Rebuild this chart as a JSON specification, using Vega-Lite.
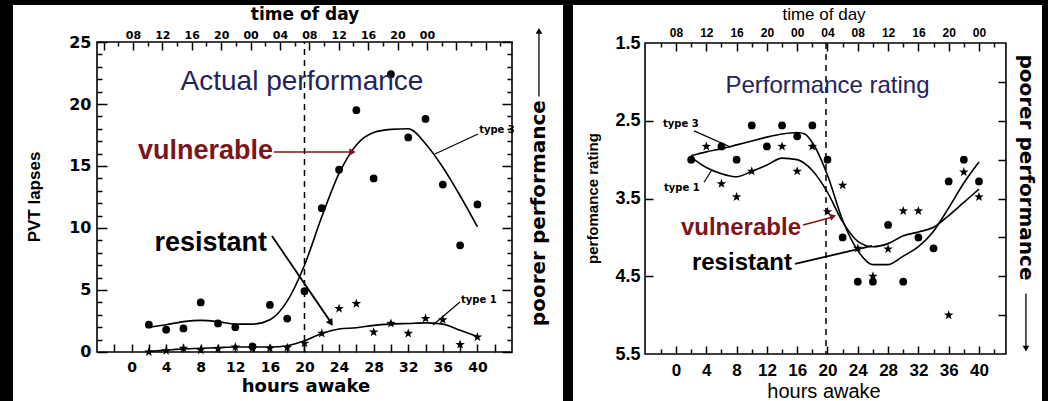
{
  "$schema": "https://vega.github.io/schema/vega-lite/v6.json",
  "background": "black",
  "padding": {"left": 13, "top": 5, "right": 6, "bottom": 0},
  "spacing": 10,
  "config": {
    "view": {"fill": "white", "stroke": null},
    "axis": {"grid": false, "domain": false, "labelOverlap": false, "labelFlush": false, "minExtent": 0, "tickColor": "black", "labelColor": "black", "tickWidth": 1.5}
  },
  "datasets": {
    "left_pts": [
      {"hours": 2, "group": "type 3", "value": 2.2}, {"hours": 4, "group": "type 3", "value": 1.8}, {"hours": 6, "group": "type 3", "value": 1.9}, {"hours": 8, "group": "type 3", "value": 4.0}, {"hours": 10, "group": "type 3", "value": 2.3}, {"hours": 12, "group": "type 3", "value": 2.0}, {"hours": 14, "group": "type 3", "value": 0.45}, {"hours": 16, "group": "type 3", "value": 3.8}, {"hours": 18, "group": "type 3", "value": 2.7}, {"hours": 20, "group": "type 3", "value": 4.9}, {"hours": 22, "group": "type 3", "value": 11.6}, {"hours": 24, "group": "type 3", "value": 14.7}, {"hours": 26, "group": "type 3", "value": 19.5}, {"hours": 28, "group": "type 3", "value": 14.0}, {"hours": 30, "group": "type 3", "value": 22.4}, {"hours": 32, "group": "type 3", "value": 17.3}, {"hours": 34, "group": "type 3", "value": 18.8}, {"hours": 36, "group": "type 3", "value": 13.5}, {"hours": 38, "group": "type 3", "value": 8.6}, {"hours": 40, "group": "type 3", "value": 11.9},
      {"hours": 2, "group": "type 1", "value": 0.0}, {"hours": 4, "group": "type 1", "value": 0.1}, {"hours": 6, "group": "type 1", "value": 0.3}, {"hours": 8, "group": "type 1", "value": 0.15}, {"hours": 10, "group": "type 1", "value": 0.25}, {"hours": 12, "group": "type 1", "value": 0.4}, {"hours": 14, "group": "type 1", "value": 0.3}, {"hours": 16, "group": "type 1", "value": 0.3}, {"hours": 18, "group": "type 1", "value": 0.35}, {"hours": 20, "group": "type 1", "value": 0.7}, {"hours": 22, "group": "type 1", "value": 1.5}, {"hours": 24, "group": "type 1", "value": 3.5}, {"hours": 26, "group": "type 1", "value": 3.9}, {"hours": 28, "group": "type 1", "value": 1.6}, {"hours": 30, "group": "type 1", "value": 2.3}, {"hours": 32, "group": "type 1", "value": 1.5}, {"hours": 34, "group": "type 1", "value": 2.7}, {"hours": 36, "group": "type 1", "value": 2.6}, {"hours": 38, "group": "type 1", "value": 0.6}, {"hours": 40, "group": "type 1", "value": 1.2}
    ],
    "left_fit": [
      {"hours": 2, "group": "type 3", "value": 2.0}, {"hours": 4, "group": "type 3", "value": 2.2}, {"hours": 6, "group": "type 3", "value": 2.45}, {"hours": 8, "group": "type 3", "value": 2.55}, {"hours": 10, "group": "type 3", "value": 2.45}, {"hours": 12, "group": "type 3", "value": 2.25}, {"hours": 14, "group": "type 3", "value": 2.25}, {"hours": 16, "group": "type 3", "value": 2.6}, {"hours": 18, "group": "type 3", "value": 4.1}, {"hours": 20, "group": "type 3", "value": 7.0}, {"hours": 22, "group": "type 3", "value": 10.9}, {"hours": 24, "group": "type 3", "value": 14.4}, {"hours": 26, "group": "type 3", "value": 16.7}, {"hours": 28, "group": "type 3", "value": 17.7}, {"hours": 30, "group": "type 3", "value": 17.95}, {"hours": 32, "group": "type 3", "value": 18.0}, {"hours": 34, "group": "type 3", "value": 16.8}, {"hours": 36, "group": "type 3", "value": 14.9}, {"hours": 38, "group": "type 3", "value": 12.6}, {"hours": 40, "group": "type 3", "value": 10.1},
      {"hours": 2, "group": "type 1", "value": 0.05}, {"hours": 4, "group": "type 1", "value": 0.15}, {"hours": 6, "group": "type 1", "value": 0.25}, {"hours": 8, "group": "type 1", "value": 0.3}, {"hours": 10, "group": "type 1", "value": 0.35}, {"hours": 12, "group": "type 1", "value": 0.4}, {"hours": 14, "group": "type 1", "value": 0.4}, {"hours": 16, "group": "type 1", "value": 0.4}, {"hours": 18, "group": "type 1", "value": 0.5}, {"hours": 20, "group": "type 1", "value": 0.9}, {"hours": 22, "group": "type 1", "value": 1.5}, {"hours": 24, "group": "type 1", "value": 1.85}, {"hours": 26, "group": "type 1", "value": 1.95}, {"hours": 28, "group": "type 1", "value": 2.15}, {"hours": 30, "group": "type 1", "value": 2.25}, {"hours": 32, "group": "type 1", "value": 2.3}, {"hours": 34, "group": "type 1", "value": 2.35}, {"hours": 36, "group": "type 1", "value": 2.25}, {"hours": 38, "group": "type 1", "value": 1.75}, {"hours": 40, "group": "type 1", "value": 1.25}
    ],
    "right_pts": [
      {"hours": 2, "group": "type 3", "value": 3.0}, {"hours": 6, "group": "type 3", "value": 2.83}, {"hours": 8, "group": "type 3", "value": 3.0}, {"hours": 10, "group": "type 3", "value": 2.56}, {"hours": 12, "group": "type 3", "value": 2.83}, {"hours": 14, "group": "type 3", "value": 2.56}, {"hours": 16, "group": "type 3", "value": 2.7}, {"hours": 18, "group": "type 3", "value": 2.56}, {"hours": 20, "group": "type 3", "value": 3.0}, {"hours": 22, "group": "type 3", "value": 4.0}, {"hours": 24, "group": "type 3", "value": 4.57}, {"hours": 26, "group": "type 3", "value": 4.57}, {"hours": 28, "group": "type 3", "value": 3.84}, {"hours": 30, "group": "type 3", "value": 4.57}, {"hours": 32, "group": "type 3", "value": 4.0}, {"hours": 34, "group": "type 3", "value": 4.14}, {"hours": 36, "group": "type 3", "value": 3.28}, {"hours": 38, "group": "type 3", "value": 3.0}, {"hours": 40, "group": "type 3", "value": 3.28},
      {"hours": 4, "group": "type 1", "value": 2.83}, {"hours": 6, "group": "type 1", "value": 3.31}, {"hours": 8, "group": "type 1", "value": 3.48}, {"hours": 10, "group": "type 1", "value": 3.15}, {"hours": 14, "group": "type 1", "value": 2.83}, {"hours": 16, "group": "type 1", "value": 3.15}, {"hours": 18, "group": "type 1", "value": 2.83}, {"hours": 20, "group": "type 1", "value": 3.67}, {"hours": 22, "group": "type 1", "value": 3.33}, {"hours": 24, "group": "type 1", "value": 4.14}, {"hours": 26, "group": "type 1", "value": 4.5}, {"hours": 28, "group": "type 1", "value": 4.15}, {"hours": 30, "group": "type 1", "value": 3.66}, {"hours": 32, "group": "type 1", "value": 3.66}, {"hours": 36, "group": "type 1", "value": 5.0}, {"hours": 38, "group": "type 1", "value": 3.16}, {"hours": 40, "group": "type 1", "value": 3.48}
    ],
    "right_fit": [
      {"hours": 2, "group": "type 3", "value": 2.95}, {"hours": 4, "group": "type 3", "value": 2.9}, {"hours": 6, "group": "type 3", "value": 2.86}, {"hours": 8, "group": "type 3", "value": 2.81}, {"hours": 10, "group": "type 3", "value": 2.76}, {"hours": 12, "group": "type 3", "value": 2.71}, {"hours": 14, "group": "type 3", "value": 2.67}, {"hours": 16, "group": "type 3", "value": 2.65}, {"hours": 17, "group": "type 3", "value": 2.67}, {"hours": 18, "group": "type 3", "value": 2.78}, {"hours": 20, "group": "type 3", "value": 3.2}, {"hours": 22, "group": "type 3", "value": 3.78}, {"hours": 24, "group": "type 3", "value": 4.17}, {"hours": 26, "group": "type 3", "value": 4.35}, {"hours": 28, "group": "type 3", "value": 4.35}, {"hours": 30, "group": "type 3", "value": 4.24}, {"hours": 32, "group": "type 3", "value": 4.12}, {"hours": 34, "group": "type 3", "value": 3.92}, {"hours": 36, "group": "type 3", "value": 3.62}, {"hours": 38, "group": "type 3", "value": 3.3}, {"hours": 40, "group": "type 3", "value": 3.03},
      {"hours": 2, "group": "type 1", "value": 2.97}, {"hours": 4, "group": "type 1", "value": 3.1}, {"hours": 6, "group": "type 1", "value": 3.18}, {"hours": 8, "group": "type 1", "value": 3.22}, {"hours": 10, "group": "type 1", "value": 3.15}, {"hours": 12, "group": "type 1", "value": 3.07}, {"hours": 14, "group": "type 1", "value": 2.98}, {"hours": 16, "group": "type 1", "value": 3.0}, {"hours": 18, "group": "type 1", "value": 3.14}, {"hours": 20, "group": "type 1", "value": 3.42}, {"hours": 22, "group": "type 1", "value": 3.8}, {"hours": 24, "group": "type 1", "value": 4.05}, {"hours": 26, "group": "type 1", "value": 4.12}, {"hours": 28, "group": "type 1", "value": 4.08}, {"hours": 30, "group": "type 1", "value": 3.98}, {"hours": 32, "group": "type 1", "value": 3.93}, {"hours": 34, "group": "type 1", "value": 3.87}, {"hours": 36, "group": "type 1", "value": 3.72}, {"hours": 38, "group": "type 1", "value": 3.55}, {"hours": 40, "group": "type 1", "value": 3.38}
    ]
  },
  "hconcat": [
    {
      "width": 550,
      "height": 396,
      "resolve": {"axis": {"x": "independent", "y": "independent"}},
      "layer": [
        {"data": {"values": [{}]}, "mark": {"type": "point", "opacity": 0},
         "encoding": {
           "x": {"datum": 20, "type": "quantitative", "scale": {"domain": [-13.715, 49.9], "nice": false, "zero": false},
                 "axis": {"orient": "bottom", "offset": -49, "values": [0, 4, 8, 12, 16, 20, 24, 28, 32, 36, 40], "ticks": false, "tickSize": 0, "labelPadding": 8, "labelFont": "DejaVu Sans", "labelFontWeight": "bold", "labelFontSize": 14, "title": null}},
           "y": {"datum": 10, "type": "quantitative", "scale": {"domain": [-3.952, 27.984], "nice": false, "zero": false},
                 "axis": {"orient": "left", "offset": -84, "values": [0, 5, 10, 15, 20, 25], "ticks": false, "tickSize": 0, "labelPadding": 6, "labelFont": "DejaVu Sans", "labelFontWeight": "bold", "labelFontSize": 16, "title": null}}
         }},
        {"data": {"values": [{}]}, "mark": {"type": "point", "opacity": 0},
         "encoding": {
           "x": {"datum": 20, "type": "quantitative", "scale": {"domain": [-13.715, 49.9], "nice": false, "zero": false},
                 "axis": {"orient": "top", "offset": -347, "values": [-2, 0, 2, 4, 6, 8, 10, 12, 14, 16, 18, 20, 22, 24, 26, 28, 30, 32, 34, 36, 38, 40, 42], "labels": false, "tickSize": 8, "title": null}},
           "y": {"datum": 10, "type": "quantitative", "scale": {"domain": [-3.952, 27.984], "nice": false, "zero": false},
                 "axis": {"orient": "right", "offset": -466, "values": [0, 5, 10, 15, 20, 25], "labels": false, "tickSize": 10, "title": null}}
         }},
        {"data": {"values": [{}]}, "mark": {"type": "point", "opacity": 0},
         "encoding": {
           "x": {"datum": 20, "type": "quantitative", "scale": {"domain": [-13.715, 49.9], "nice": false, "zero": false},
                 "axis": {"orient": "top", "offset": -37, "values": [0.16, 3.56, 6.96, 10.36, 13.76, 17.16, 20.56, 23.96, 27.36, 30.76, 34.16], "labelExpr": "format((8 + 4*round((datum.value - 0.16)/3.4)) % 24, '02d')", "ticks": false, "tickSize": 0, "labelPadding": 2, "labelFont": "DejaVu Sans", "labelFontWeight": "bold", "labelFontSize": 11, "title": null}},
           "y": {"datum": 10, "type": "quantitative", "scale": {"domain": [-3.952, 27.984], "nice": false, "zero": false},
                 "axis": {"orient": "right", "offset": -466, "values": [1, 2, 3, 4, 6, 7, 8, 9, 11, 12, 13, 14, 16, 17, 18, 19, 21, 22, 23, 24], "labels": false, "tickSize": 5, "title": null}}
         }},
        {"data": {"values": [{}]}, "mark": {"type": "point", "opacity": 0},
         "encoding": {
           "x": {"datum": 20, "type": "quantitative", "scale": {"domain": [-13.715, 49.9], "nice": false, "zero": false},
                 "axis": {"orient": "bottom", "offset": -359, "values": [-3.24, 0.16, 3.56, 6.96, 10.36, 13.76, 17.16, 20.56, 23.96, 27.36, 30.76, 34.16, 37.56, 40.96], "labels": false, "tickSize": 8, "title": null}},
           "y": {"datum": 10, "type": "quantitative", "scale": {"domain": [-3.952, 27.984], "nice": false, "zero": false},
                 "axis": {"orient": "left", "offset": -499, "values": [0, 5, 10, 15, 20, 25], "labels": false, "tickSize": 10, "title": null}}
         }},
        {"data": {"values": [{}]}, "mark": {"type": "point", "opacity": 0},
         "encoding": {
           "x": {"datum": 20, "type": "quantitative", "scale": {"domain": [-13.715, 49.9], "nice": false, "zero": false},
                 "axis": {"orient": "bottom", "offset": -359, "values": [-1.54, 1.86, 5.26, 8.66, 12.06, 15.46, 18.86, 22.26, 25.66, 29.06, 32.46, 35.86, 39.26, 42.66], "labels": false, "tickSize": 4, "title": null}},
           "y": {"datum": 10, "type": "quantitative", "scale": {"domain": [-3.952, 27.984], "nice": false, "zero": false},
                 "axis": {"orient": "left", "offset": -499, "values": [1, 2, 3, 4, 6, 7, 8, 9, 11, 12, 13, 14, 16, 17, 18, 19, 21, 22, 23, 24], "labels": false, "tickSize": 5, "title": null}}
         }},
        {"data": {"values": [{}]}, "mark": {"type": "rect", "fillOpacity": 0, "stroke": "black", "strokeWidth": 1.6},
         "encoding": {
           "x": {"datum": -4, "type": "quantitative", "scale": {"domain": [-13.715, 49.9], "nice": false, "zero": false}, "axis": null},
           "x2": {"datum": 44},
           "y": {"datum": 0, "type": "quantitative", "scale": {"domain": [-3.952, 27.984], "nice": false, "zero": false}, "axis": null},
           "y2": {"datum": 25}
         }},
        {"data": {"values": [{}]}, "mark": {"type": "rule", "color": "black", "strokeWidth": 1.5, "strokeDash": [6, 5]},
         "encoding": {
           "x": {"datum": 20, "type": "quantitative", "scale": {"domain": [-13.715, 49.9], "nice": false, "zero": false}, "axis": null},
           "y": {"datum": 0, "type": "quantitative", "scale": {"domain": [-3.952, 27.984], "nice": false, "zero": false}, "axis": null},
           "y2": {"datum": 25}
         }},
        {"data": {"name": "left_fit"}, "mark": {"type": "line", "color": "black", "strokeWidth": 1.6, "interpolate": "monotone"},
         "encoding": {
           "x": {"field": "hours", "type": "quantitative", "scale": {"domain": [-13.715, 49.9], "nice": false, "zero": false}, "axis": null},
           "y": {"field": "value", "type": "quantitative", "scale": {"domain": [-3.952, 27.984], "nice": false, "zero": false}, "axis": null},
           "detail": {"field": "group"}
         }},
        {"data": {"name": "left_pts"}, "mark": {"type": "point", "filled": true, "color": "black", "opacity": 1},
         "encoding": {
           "x": {"field": "hours", "type": "quantitative", "scale": {"domain": [-13.715, 49.9], "nice": false, "zero": false}, "axis": null},
           "y": {"field": "value", "type": "quantitative", "scale": {"domain": [-3.952, 27.984], "nice": false, "zero": false}, "axis": null},
           "shape": {"field": "group", "type": "nominal", "scale": {"domain": ["type 3", "type 1"], "range": ["circle", "M0,-1L0.235,-0.324L0.951,-0.309L0.38,0.124L0.588,0.809L0,0.4L-0.588,0.809L-0.38,0.124L-0.951,-0.309L-0.235,-0.324Z"]}, "legend": null},
           "size": {"field": "group", "type": "nominal", "scale": {"domain": ["type 3", "type 1"], "range": [60, 100]}, "legend": null}
         }},
        {"data": {"values": [{}]}, "mark": {"type": "text", "text": "time of day", "font": "DejaVu Sans", "fontWeight": "bold", "fontSize": 17, "color": "black", "align": "center", "baseline": "middle"},
         "encoding": {
           "x": {"datum": 20.06, "type": "quantitative", "scale": {"domain": [-13.715, 49.9], "nice": false, "zero": false}, "axis": null},
           "y": {"datum": 27.18, "type": "quantitative", "scale": {"domain": [-3.952, 27.984], "nice": false, "zero": false}, "axis": null}
         }},
        {"data": {"values": [{}]}, "mark": {"type": "text", "text": "hours awake", "font": "DejaVu Sans", "fontWeight": "bold", "fontSize": 18, "color": "black", "align": "center", "baseline": "middle"},
         "encoding": {
           "x": {"datum": 20.17, "type": "quantitative", "scale": {"domain": [-13.715, 49.9], "nice": false, "zero": false}, "axis": null},
           "y": {"datum": -2.85, "type": "quantitative", "scale": {"domain": [-3.952, 27.984], "nice": false, "zero": false}, "axis": null}
         }},
        {"data": {"values": [{}]}, "mark": {"type": "text", "text": "PVT lapses", "font": "Liberation Sans", "fontWeight": "bold", "fontSize": 17, "color": "black", "align": "center", "baseline": "middle", "angle": 270},
         "encoding": {
           "x": {"datum": -11.17, "type": "quantitative", "scale": {"domain": [-13.715, 49.9], "nice": false, "zero": false}, "axis": null},
           "y": {"datum": 12.5, "type": "quantitative", "scale": {"domain": [-3.952, 27.984], "nice": false, "zero": false}, "axis": null}
         }},
        {"data": {"values": [{}]}, "mark": {"type": "text", "text": "Actual performance", "font": "Liberation Sans", "fontSize": 28, "color": "#23235a", "align": "center", "baseline": "middle"},
         "encoding": {
           "x": {"datum": 19.71, "type": "quantitative", "scale": {"domain": [-13.715, 49.9], "nice": false, "zero": false}, "axis": null},
           "y": {"datum": 21.77, "type": "quantitative", "scale": {"domain": [-3.952, 27.984], "nice": false, "zero": false}, "axis": null}
         }},
        {"data": {"values": [{}]}, "mark": {"type": "text", "text": "vulnerable", "font": "Liberation Sans", "fontWeight": "bold", "fontSize": 27, "color": "#7d1518", "align": "right", "baseline": "middle"},
         "encoding": {
           "x": {"datum": 16.36, "type": "quantitative", "scale": {"domain": [-13.715, 49.9], "nice": false, "zero": false}, "axis": null},
           "y": {"datum": 16.21, "type": "quantitative", "scale": {"domain": [-3.952, 27.984], "nice": false, "zero": false}, "axis": null}
         }},
        {"data": {"values": [{}]}, "mark": {"type": "text", "text": "resistant", "font": "Liberation Sans", "fontWeight": "bold", "fontSize": 27, "color": "black", "align": "right", "baseline": "middle"},
         "encoding": {
           "x": {"datum": 15.66, "type": "quantitative", "scale": {"domain": [-13.715, 49.9], "nice": false, "zero": false}, "axis": null},
           "y": {"datum": 8.79, "type": "quantitative", "scale": {"domain": [-3.952, 27.984], "nice": false, "zero": false}, "axis": null}
         }},
        {"data": {"values": [{}]}, "mark": {"type": "text", "text": "type 3", "font": "DejaVu Sans", "fontWeight": "bold", "fontSize": 10, "color": "black", "align": "left", "baseline": "middle"},
         "encoding": {
           "x": {"datum": 40.2, "type": "quantitative", "scale": {"domain": [-13.715, 49.9], "nice": false, "zero": false}, "axis": null},
           "y": {"datum": 17.9, "type": "quantitative", "scale": {"domain": [-3.952, 27.984], "nice": false, "zero": false}, "axis": null}
         }},
        {"data": {"values": [{}]}, "mark": {"type": "text", "text": "type 1", "font": "DejaVu Sans", "fontWeight": "bold", "fontSize": 10, "color": "black", "align": "left", "baseline": "middle"},
         "encoding": {
           "x": {"datum": 38.1, "type": "quantitative", "scale": {"domain": [-13.715, 49.9], "nice": false, "zero": false}, "axis": null},
           "y": {"datum": 4.19, "type": "quantitative", "scale": {"domain": [-3.952, 27.984], "nice": false, "zero": false}, "axis": null}
         }},
        {"data": {"values": [{}]}, "mark": {"type": "text", "text": "poorer performance", "font": "DejaVu Sans", "fontWeight": "bold", "fontSize": 20, "color": "black", "align": "center", "baseline": "middle", "angle": 270},
         "encoding": {
           "x": {"datum": 47.12, "type": "quantitative", "scale": {"domain": [-13.715, 49.9], "nice": false, "zero": false}, "axis": null},
           "y": {"datum": 11.2, "type": "quantitative", "scale": {"domain": [-3.952, 27.984], "nice": false, "zero": false}, "axis": null}
         }},
        {"data": {"values": [{}]}, "mark": {"type": "rule", "color": "#7d1518", "strokeWidth": 1.6},
         "encoding": {
           "x": {"datum": 16.47, "type": "quantitative", "scale": {"domain": [-13.715, 49.9], "nice": false, "zero": false}, "axis": null},
           "x2": {"datum": 25.3},
           "y": {"datum": 16.13, "type": "quantitative", "scale": {"domain": [-3.952, 27.984], "nice": false, "zero": false}, "axis": null},
           "y2": {"datum": 16.13}
         }},
        {"data": {"values": [{}]}, "mark": {"type": "rule", "color": "black", "strokeWidth": 1.8},
         "encoding": {
           "x": {"datum": 16.24, "type": "quantitative", "scale": {"domain": [-13.715, 49.9], "nice": false, "zero": false}, "axis": null},
           "x2": {"datum": 22.9},
           "y": {"datum": 9.35, "type": "quantitative", "scale": {"domain": [-3.952, 27.984], "nice": false, "zero": false}, "axis": null},
           "y2": {"datum": 2.55}
         }},
        {"data": {"values": [{}]}, "mark": {"type": "rule", "color": "black", "strokeWidth": 1.2},
         "encoding": {
           "x": {"datum": 40.07, "type": "quantitative", "scale": {"domain": [-13.715, 49.9], "nice": false, "zero": false}, "axis": null},
           "x2": {"datum": 35.09},
           "y": {"datum": 17.58, "type": "quantitative", "scale": {"domain": [-3.952, 27.984], "nice": false, "zero": false}, "axis": null},
           "y2": {"datum": 15.97}
         }},
        {"data": {"values": [{}]}, "mark": {"type": "rule", "color": "black", "strokeWidth": 1.2},
         "encoding": {
           "x": {"datum": 37.98, "type": "quantitative", "scale": {"domain": [-13.715, 49.9], "nice": false, "zero": false}, "axis": null},
           "x2": {"datum": 34.86},
           "y": {"datum": 4.03, "type": "quantitative", "scale": {"domain": [-3.952, 27.984], "nice": false, "zero": false}, "axis": null},
           "y2": {"datum": 2.18}
         }},
        {"data": {"values": [{}]}, "mark": {"type": "rule", "color": "black", "strokeWidth": 1.3},
         "encoding": {
           "x": {"datum": 47.12, "type": "quantitative", "scale": {"domain": [-13.715, 49.9], "nice": false, "zero": false}, "axis": null},
           "y": {"datum": 20.6, "type": "quantitative", "scale": {"domain": [-3.952, 27.984], "nice": false, "zero": false}, "axis": null},
           "y2": {"datum": 25.8}
         }},
        {"data": {"values": [{}]}, "mark": {"type": "point", "shape": "triangle-right", "filled": true, "color": "#7d1518", "opacity": 1, "size": 55, "angle": 0},
         "encoding": {
           "x": {"datum": 25.55, "type": "quantitative", "scale": {"domain": [-13.715, 49.9], "nice": false, "zero": false}, "axis": null},
           "y": {"datum": 16.13, "type": "quantitative", "scale": {"domain": [-3.952, 27.984], "nice": false, "zero": false}, "axis": null}
         }},
        {"data": {"values": [{}]}, "mark": {"type": "point", "shape": "triangle-right", "filled": true, "color": "black", "opacity": 1, "size": 60, "angle": 56},
         "encoding": {
           "x": {"datum": 23.06, "type": "quantitative", "scale": {"domain": [-13.715, 49.9], "nice": false, "zero": false}, "axis": null},
           "y": {"datum": 2.34, "type": "quantitative", "scale": {"domain": [-3.952, 27.984], "nice": false, "zero": false}, "axis": null}
         }},
        {"data": {"values": [{}]}, "mark": {"type": "point", "shape": "triangle-up", "filled": true, "color": "black", "opacity": 1, "size": 45},
         "encoding": {
           "x": {"datum": 47.12, "type": "quantitative", "scale": {"domain": [-13.715, 49.9], "nice": false, "zero": false}, "axis": null},
           "y": {"datum": 25.9, "type": "quantitative", "scale": {"domain": [-3.952, 27.984], "nice": false, "zero": false}, "axis": null}
         }}
      ]
    },
    {
      "width": 469,
      "height": 396,
      "resolve": {"axis": {"x": "independent", "y": "independent"}},
      "layer": [
        {"data": {"values": [{}]}, "mark": {"type": "point", "opacity": 0},
         "encoding": {
           "x": {"datum": 20, "type": "quantitative", "scale": {"domain": [-13.6, 48.32], "nice": false, "zero": false},
                 "axis": {"orient": "bottom", "offset": -47, "values": [0, 4, 8, 12, 16, 20, 24, 28, 32, 36, 40], "ticks": false, "tickSize": 0, "labelPadding": 8, "labelFont": "Liberation Sans", "labelFontWeight": "bold", "labelFontSize": 17, "title": null}},
           "y": {"datum": 3, "type": "quantitative", "scale": {"domain": [1.011, 6.104], "nice": false, "zero": false, "reverse": true},
                 "axis": {"orient": "left", "offset": -72, "values": [1.5, 2.5, 3.5, 4.5, 5.5], "format": ".1f", "ticks": false, "tickSize": 0, "labelPadding": 5, "labelFont": "Liberation Sans", "labelFontWeight": "bold", "labelFontSize": 18, "title": null}}
         }},
        {"data": {"values": [{}]}, "mark": {"type": "point", "opacity": 0},
         "encoding": {
           "x": {"datum": 20, "type": "quantitative", "scale": {"domain": [-13.6, 48.32], "nice": false, "zero": false},
                 "axis": {"orient": "top", "offset": -349, "values": [0, 4, 8, 12, 16, 20, 24, 28, 32, 36, 40], "labels": false, "tickSize": 8, "title": null}},
           "y": {"datum": 3, "type": "quantitative", "scale": {"domain": [1.011, 6.104], "nice": false, "zero": false, "reverse": true},
                 "axis": {"orient": "right", "offset": -397, "values": [2.5, 3.5, 4.5], "labels": false, "tickSize": 8, "title": null}}
         }},
        {"data": {"values": [{}]}, "mark": {"type": "point", "opacity": 0},
         "encoding": {
           "x": {"datum": 20, "type": "quantitative", "scale": {"domain": [-13.6, 48.32], "nice": false, "zero": false},
                 "axis": {"orient": "top", "offset": -349, "values": [-2, 2, 6, 10, 14, 18, 22, 26, 30, 34, 38, 42], "labels": false, "tickSize": 5, "title": null}},
           "y": {"datum": 3, "type": "quantitative", "scale": {"domain": [1.011, 6.104], "nice": false, "zero": false, "reverse": true},
                 "axis": {"orient": "left", "offset": -433, "values": [2, 2.5, 3, 3.5, 4, 4.5, 5], "labels": false, "tickSize": 8, "title": null}}
         }},
        {"data": {"values": [{}]}, "mark": {"type": "point", "opacity": 0},
         "encoding": {
           "x": {"datum": 20, "type": "quantitative", "scale": {"domain": [-13.6, 48.32], "nice": false, "zero": false},
                 "axis": {"orient": "top", "offset": -38, "values": [0, 4, 8, 12, 16, 20, 24, 28, 32, 36, 40], "labelExpr": "format((8 + datum.value) % 24, '02d')", "ticks": false, "tickSize": 0, "labelPadding": 4, "labelFont": "Liberation Sans", "labelFontWeight": "bold", "labelFontSize": 12, "title": null}},
           "y": {"datum": 3, "type": "quantitative", "scale": {"domain": [1.011, 6.104], "nice": false, "zero": false, "reverse": true}, "axis": null}
         }},
        {"data": {"values": [{}]}, "mark": {"type": "point", "opacity": 0},
         "encoding": {
           "x": {"datum": 20, "type": "quantitative", "scale": {"domain": [-13.6, 48.32], "nice": false, "zero": false},
                 "axis": {"orient": "bottom", "offset": -358, "values": [0, 4, 8, 12, 16, 20, 24, 28, 32, 36, 40], "labels": false, "tickSize": 8, "title": null}},
           "y": {"datum": 3, "type": "quantitative", "scale": {"domain": [1.011, 6.104], "nice": false, "zero": false, "reverse": true}, "axis": null}
         }},
        {"data": {"values": [{}]}, "mark": {"type": "point", "opacity": 0},
         "encoding": {
           "x": {"datum": 20, "type": "quantitative", "scale": {"domain": [-13.6, 48.32], "nice": false, "zero": false},
                 "axis": {"orient": "bottom", "offset": -358, "values": [-2, 2, 6, 10, 14, 18, 22, 26, 30, 34, 38, 42], "labels": false, "tickSize": 4, "title": null}},
           "y": {"datum": 3, "type": "quantitative", "scale": {"domain": [1.011, 6.104], "nice": false, "zero": false, "reverse": true}, "axis": null}
         }},
        {"data": {"values": [{}]}, "mark": {"type": "rect", "fillOpacity": 0, "stroke": "black", "strokeWidth": 1.6},
         "encoding": {
           "x": {"datum": -4.09, "type": "quantitative", "scale": {"domain": [-13.6, 48.32], "nice": false, "zero": false}, "axis": null},
           "x2": {"datum": 43.56},
           "y": {"datum": 1.5, "type": "quantitative", "scale": {"domain": [1.011, 6.104], "nice": false, "zero": false, "reverse": true}, "axis": null},
           "y2": {"datum": 5.5}
         }},
        {"data": {"values": [{}]}, "mark": {"type": "rule", "color": "black", "strokeWidth": 1.5, "strokeDash": [6, 5]},
         "encoding": {
           "x": {"datum": 19.8, "type": "quantitative", "scale": {"domain": [-13.6, 48.32], "nice": false, "zero": false}, "axis": null},
           "y": {"datum": 1.5, "type": "quantitative", "scale": {"domain": [1.011, 6.104], "nice": false, "zero": false, "reverse": true}, "axis": null},
           "y2": {"datum": 5.5}
         }},
        {"data": {"name": "right_fit"}, "mark": {"type": "line", "color": "black", "strokeWidth": 1.6, "interpolate": "monotone"},
         "encoding": {
           "x": {"field": "hours", "type": "quantitative", "scale": {"domain": [-13.6, 48.32], "nice": false, "zero": false}, "axis": null},
           "y": {"field": "value", "type": "quantitative", "scale": {"domain": [1.011, 6.104], "nice": false, "zero": false, "reverse": true}, "axis": null},
           "detail": {"field": "group"}
         }},
        {"data": {"name": "right_pts"}, "mark": {"type": "point", "filled": true, "color": "black", "opacity": 1},
         "encoding": {
           "x": {"field": "hours", "type": "quantitative", "scale": {"domain": [-13.6, 48.32], "nice": false, "zero": false}, "axis": null},
           "y": {"field": "value", "type": "quantitative", "scale": {"domain": [1.011, 6.104], "nice": false, "zero": false, "reverse": true}, "axis": null},
           "shape": {"field": "group", "type": "nominal", "scale": {"domain": ["type 3", "type 1"], "range": ["circle", "M0,-1L0.235,-0.324L0.951,-0.309L0.38,0.124L0.588,0.809L0,0.4L-0.588,0.809L-0.38,0.124L-0.951,-0.309L-0.235,-0.324Z"]}, "legend": null},
           "size": {"field": "group", "type": "nominal", "scale": {"domain": ["type 3", "type 1"], "range": [50, 85]}, "legend": null}
         }},
        {"data": {"values": [{}]}, "mark": {"type": "text", "text": "time of day", "font": "Liberation Sans", "fontSize": 17, "color": "black", "align": "center", "baseline": "middle"},
         "encoding": {
           "x": {"datum": 19.54, "type": "quantitative", "scale": {"domain": [-13.6, 48.32], "nice": false, "zero": false}, "axis": null},
           "y": {"datum": 1.14, "type": "quantitative", "scale": {"domain": [1.011, 6.104], "nice": false, "zero": false, "reverse": true}, "axis": null}
         }},
        {"data": {"values": [{}]}, "mark": {"type": "text", "text": "hours awake", "font": "Liberation Sans", "fontSize": 20, "color": "black", "align": "center", "baseline": "middle"},
         "encoding": {
           "x": {"datum": 19.54, "type": "quantitative", "scale": {"domain": [-13.6, 48.32], "nice": false, "zero": false}, "axis": null},
           "y": {"datum": 5.99, "type": "quantitative", "scale": {"domain": [1.011, 6.104], "nice": false, "zero": false, "reverse": true}, "axis": null}
         }},
        {"data": {"values": [{}]}, "mark": {"type": "text", "text": "perfomance rating", "font": "Liberation Sans", "fontWeight": "bold", "fontSize": 15, "color": "black", "align": "center", "baseline": "middle", "angle": 270},
         "encoding": {
           "x": {"datum": -10.96, "type": "quantitative", "scale": {"domain": [-13.6, 48.32], "nice": false, "zero": false}, "axis": null},
           "y": {"datum": 3.5, "type": "quantitative", "scale": {"domain": [1.011, 6.104], "nice": false, "zero": false, "reverse": true}, "axis": null}
         }},
        {"data": {"values": [{}]}, "mark": {"type": "text", "text": "Performance rating", "font": "Liberation Sans", "fontSize": 24, "color": "#23235a", "align": "center", "baseline": "middle"},
         "encoding": {
           "x": {"datum": 20.0, "type": "quantitative", "scale": {"domain": [-13.6, 48.32], "nice": false, "zero": false}, "axis": null},
           "y": {"datum": 2.047, "type": "quantitative", "scale": {"domain": [1.011, 6.104], "nice": false, "zero": false, "reverse": true}, "axis": null}
         }},
        {"data": {"values": [{}]}, "mark": {"type": "text", "text": "vulnerable", "font": "Liberation Sans", "fontWeight": "bold", "fontSize": 24, "color": "#7d1518", "align": "right", "baseline": "middle"},
         "encoding": {
           "x": {"datum": 16.5, "type": "quantitative", "scale": {"domain": [-13.6, 48.32], "nice": false, "zero": false}, "axis": null},
           "y": {"datum": 3.88, "type": "quantitative", "scale": {"domain": [1.011, 6.104], "nice": false, "zero": false, "reverse": true}, "axis": null}
         }},
        {"data": {"values": [{}]}, "mark": {"type": "text", "text": "resistant", "font": "Liberation Sans", "fontWeight": "bold", "fontSize": 24, "color": "black", "align": "right", "baseline": "middle"},
         "encoding": {
           "x": {"datum": 15.31, "type": "quantitative", "scale": {"domain": [-13.6, 48.32], "nice": false, "zero": false}, "axis": null},
           "y": {"datum": 4.33, "type": "quantitative", "scale": {"domain": [1.011, 6.104], "nice": false, "zero": false, "reverse": true}, "axis": null}
         }},
        {"data": {"values": [{}]}, "mark": {"type": "text", "text": "type 3", "font": "DejaVu Sans", "fontWeight": "bold", "fontSize": 10, "color": "black", "align": "left", "baseline": "middle"},
         "encoding": {
           "x": {"datum": -1.72, "type": "quantitative", "scale": {"domain": [-13.6, 48.32], "nice": false, "zero": false}, "axis": null},
           "y": {"datum": 2.54, "type": "quantitative", "scale": {"domain": [1.011, 6.104], "nice": false, "zero": false, "reverse": true}, "axis": null}
         }},
        {"data": {"values": [{}]}, "mark": {"type": "text", "text": "type 1", "font": "DejaVu Sans", "fontWeight": "bold", "fontSize": 10, "color": "black", "align": "left", "baseline": "middle"},
         "encoding": {
           "x": {"datum": -1.58, "type": "quantitative", "scale": {"domain": [-13.6, 48.32], "nice": false, "zero": false}, "axis": null},
           "y": {"datum": 3.36, "type": "quantitative", "scale": {"domain": [1.011, 6.104], "nice": false, "zero": false, "reverse": true}, "axis": null}
         }},
        {"data": {"values": [{}]}, "mark": {"type": "text", "text": "poorer performance", "font": "DejaVu Sans", "fontWeight": "bold", "fontSize": 20, "color": "black", "align": "center", "baseline": "middle", "angle": 90},
         "encoding": {
           "x": {"datum": 46.2, "type": "quantitative", "scale": {"domain": [-13.6, 48.32], "nice": false, "zero": false}, "axis": null},
           "y": {"datum": 3.1, "type": "quantitative", "scale": {"domain": [1.011, 6.104], "nice": false, "zero": false, "reverse": true}, "axis": null}
         }},
        {"data": {"values": [{}]}, "mark": {"type": "rule", "color": "#7d1518", "strokeWidth": 1.6},
         "encoding": {
           "x": {"datum": 16.77, "type": "quantitative", "scale": {"domain": [-13.6, 48.32], "nice": false, "zero": false}, "axis": null},
           "x2": {"datum": 20.6},
           "y": {"datum": 3.84, "type": "quantitative", "scale": {"domain": [1.011, 6.104], "nice": false, "zero": false, "reverse": true}, "axis": null},
           "y2": {"datum": 3.74}
         }},
        {"data": {"values": [{}]}, "mark": {"type": "rule", "color": "black", "strokeWidth": 1.8},
         "encoding": {
           "x": {"datum": 15.71, "type": "quantitative", "scale": {"domain": [-13.6, 48.32], "nice": false, "zero": false}, "axis": null},
           "x2": {"datum": 25.87},
           "y": {"datum": 4.34, "type": "quantitative", "scale": {"domain": [1.011, 6.104], "nice": false, "zero": false, "reverse": true}, "axis": null},
           "y2": {"datum": 4.11}
         }},
        {"data": {"values": [{}]}, "mark": {"type": "rule", "color": "black", "strokeWidth": 1.2},
         "encoding": {
           "x": {"datum": 2.38, "type": "quantitative", "scale": {"domain": [-13.6, 48.32], "nice": false, "zero": false}, "axis": null},
           "x2": {"datum": 7.26},
           "y": {"datum": 2.63, "type": "quantitative", "scale": {"domain": [1.011, 6.104], "nice": false, "zero": false, "reverse": true}, "axis": null},
           "y2": {"datum": 2.84}
         }},
        {"data": {"values": [{}]}, "mark": {"type": "rule", "color": "black", "strokeWidth": 1.2},
         "encoding": {
           "x": {"datum": 3.7, "type": "quantitative", "scale": {"domain": [-13.6, 48.32], "nice": false, "zero": false}, "axis": null},
           "x2": {"datum": 4.75},
           "y": {"datum": 3.29, "type": "quantitative", "scale": {"domain": [1.011, 6.104], "nice": false, "zero": false, "reverse": true}, "axis": null},
           "y2": {"datum": 3.13}
         }},
        {"data": {"values": [{}]}, "mark": {"type": "rule", "color": "black", "strokeWidth": 1.3},
         "encoding": {
           "x": {"datum": 46.2, "type": "quantitative", "scale": {"domain": [-13.6, 48.32], "nice": false, "zero": false}, "axis": null},
           "y": {"datum": 4.72, "type": "quantitative", "scale": {"domain": [1.011, 6.104], "nice": false, "zero": false, "reverse": true}, "axis": null},
           "y2": {"datum": 5.4}
         }},
        {"data": {"values": [{}]}, "mark": {"type": "point", "shape": "triangle-right", "filled": true, "color": "#7d1518", "opacity": 1, "size": 50, "angle": 344},
         "encoding": {
           "x": {"datum": 20.73, "type": "quantitative", "scale": {"domain": [-13.6, 48.32], "nice": false, "zero": false}, "axis": null},
           "y": {"datum": 3.73, "type": "quantitative", "scale": {"domain": [1.011, 6.104], "nice": false, "zero": false, "reverse": true}, "axis": null}
         }},
        {"data": {"values": [{}]}, "mark": {"type": "point", "shape": "triangle-down", "filled": true, "color": "black", "opacity": 1, "size": 45},
         "encoding": {
           "x": {"datum": 46.2, "type": "quantitative", "scale": {"domain": [-13.6, 48.32], "nice": false, "zero": false}, "axis": null},
           "y": {"datum": 5.43, "type": "quantitative", "scale": {"domain": [1.011, 6.104], "nice": false, "zero": false, "reverse": true}, "axis": null}
         }}
      ]
    }
  ]
}
